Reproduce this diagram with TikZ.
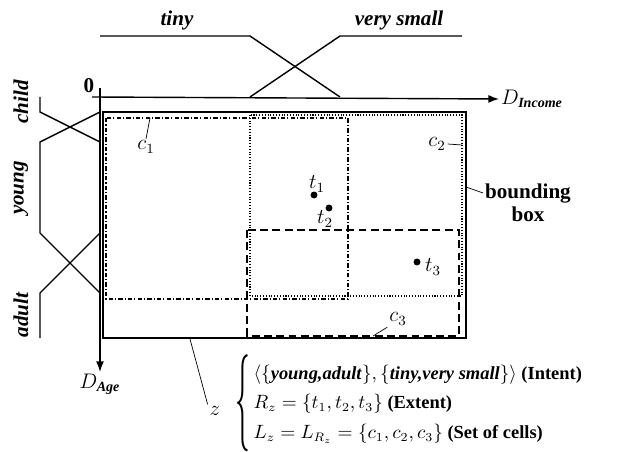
\documentclass[tikz,border=0pt]{standalone}
\usepackage{amsmath,amssymb}
\usepackage{fontspec}
\setmainfont{Liberation Serif}
\usepackage{tikz}
\usetikzlibrary{arrows.meta, positioning, calc}

\begin{document}
\begin{tikzpicture}[x=0.02cm, y=-0.02cm,
    every node/.style={font=\fontsize{12}{14}\selectfont},
    axis/.style={thick, -{Latex[length=6pt,width=4.5pt]}},
    mf/.style={thick},
    term/.style={font=\fontsize{12}{14}\selectfont\bfseries\itshape},
    cellone/.style={semithick, dash pattern=on 2.5pt off 1.2pt on 0.6pt off 1.2pt},
    celltwo/.style={semithick, densely dotted},
    cellthree/.style={semithick, dash pattern=on 4.5pt off 2.5pt},
    tpoint/.style={circle, fill, inner sep=1.4pt},
    lead/.style={thin}]
  \useasboundingbox (0,0) rectangle (618,452);

  % Axes
  \coordinate (xstart) at (92,97);
  \coordinate (ystart) at (100,88);
  \node[anchor=west, inner sep=1pt] (dinc) at (499,99) {$D_{\textbf{\textit{Income}}}$};
  \node[anchor=north, inner sep=1pt] (dage) at (100,372) {$D_{\textbf{\textit{Age}}}$};
  \draw[axis] (xstart) -- (dinc.west);
  \draw[axis] (ystart) -- (dage.north);
  \node (zero) at (89,86) {\textbf{0}};

  % Membership functions on D_Income
  \draw[mf] (100,36) -- (250,36) -- (340,97);
  \draw[mf] (250,97) -- (340,36) -- (462,36);
  \node[term] (tiny) at (177,20) {tiny};
  \node[term] (vsmall) at (399,20) {very small};

  % Membership functions on D_Age
  \draw[mf] (40,97) -- (40,112) -- (100,142);
  \draw[mf] (100,112) -- (40,142) -- (40,233) -- (100,293);
  \draw[mf] (100,233) -- (40,293) -- (40,338);
  \node[term, rotate=90] (child) at (21,102) {child};
  \node[term, rotate=90] (young) at (21,188) {young};
  \node[term, rotate=90] (adult) at (21,315) {adult};

  % Bounding box and cells
  \draw[thick] (103,112) rectangle (466,338);
  \draw[cellone] (106,118) rectangle (348,299);
  \draw[celltwo] (250,115) rectangle (462,296);
  \draw[cellthree] (247,230) rectangle (459,336);

  % Tuples
  \node[tpoint] (t1) at (314,195) {};
  \node[tpoint] (t2) at (329,208) {};
  \node[tpoint] (t3) at (417,262) {};
  \node (t1l) at (317,184) {$t_1$};
  \node (t2l) at (325,219) {$t_2$};
  \node (t3l) at (433,267) {$t_3$};

  % Cell labels
  \node[inner sep=1pt] (c1l) at (146,147) {$c_1$};
  \coordinate (c1p) at (150,118);
  \draw[lead] (c1l.north) -- (c1p);
  \node[inner sep=1pt] (c2l) at (437,144) {$c_2$};
  \coordinate (c2p) at (462,145);
  \draw[lead] (c2l.east) -- (c2p);
  \node[inner sep=1pt] (c3l) at (398,319) {$c_3$};
  \coordinate (c3p) at (373,336);
  \draw[lead] (c3l.south west) -- (c3p);

  \node[align=center, font=\fontsize{12}{13}\selectfont\bfseries, inner sep=1pt] (bbl) at (528,203) {bounding\\box};
  \coordinate (bbp) at (466,187);
  \draw[lead] (bbp) -- ($(bbl.west)+(0,-10)$);

  % Concept z
  \node[inner sep=1pt] (zl) at (215,411) {$z$};
  \coordinate (zp) at (190,339);
  \draw[lead] (zp) -- (zl.north west);
  \node[inner sep=0pt] (brc) at (243,403) {\scalebox{1.4}[4.6]{$\{$}};
  \node[right=1.5pt of brc, inner sep=0pt, font=\fontsize{10.5}{13}\selectfont] (zdef) {$\renewcommand{\arraystretch}{1.3}\begin{array}{@{}l@{}}
    \langle\{\textbf{\textit{young,adult}}\},\{\textbf{\textit{tiny,very small}}\}\rangle\ \textbf{(Intent)}\\
    R_z=\{t_1,t_2,t_3\}\ \textbf{(Extent)}\\
    L_z=L_{R_z}=\{c_1,c_2,c_3\}\ \textbf{(Set of cells)}
  \end{array}$};
\end{tikzpicture}
\end{document}
